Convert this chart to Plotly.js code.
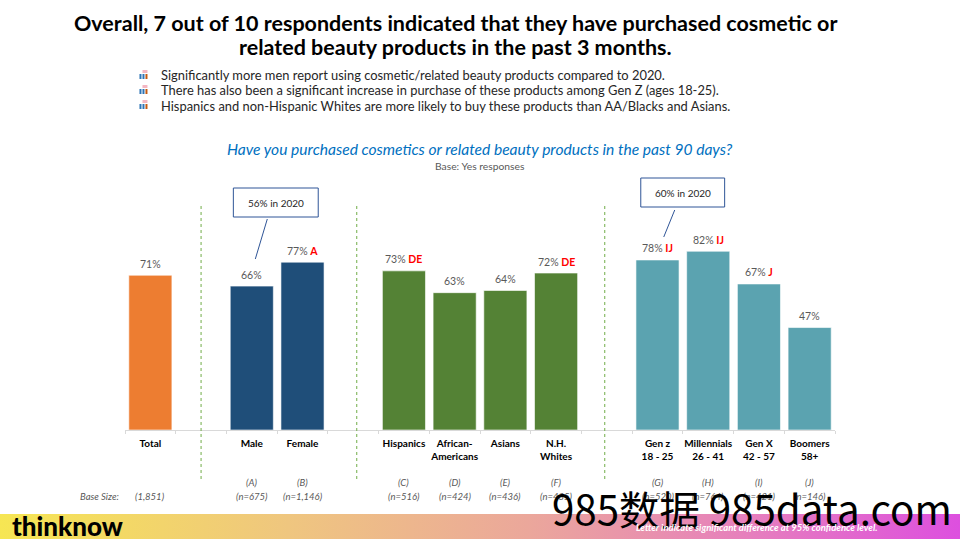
<!DOCTYPE html>
<html><head><meta charset="utf-8">
<script src="https://cdn.plot.ly/plotly-3.0.1.min.js"></script>
<style>
html,body{margin:0;padding:0;background:#fff;width:960px;height:540px;overflow:hidden}
#band{position:absolute;left:0;top:514px;width:960px;height:25px;background:linear-gradient(90deg,#f6e653 0%,#efc67f 30%,#eba79b 55%,#e67fbd 78%,#dd4fdf 100%)}
#chart{position:absolute;left:0;top:0;width:960px;height:540px}
</style></head><body>
<div id="band"></div><div id="chart"></div>
<script>
const categories=["Total","gap1","Male","Female","gap2","Hispanics","African-<br>Americans","Asians","N.H.<br>Whites","gap3","Gen z<br>18 - 25","Millennials<br>26 - 41","Gen X<br>42 - 57","Boomers<br>58+"];
const tickLabels=["Total","","Male","Female","","Hispanics","African-<br>Americans","Asians","N.H.<br>Whites","","Gen z<br>18 - 25","Millennials<br>26 - 41","Gen X<br>42 - 57","Boomers<br>58+"];
const values=[71,null,66,77,null,73,63,64,72,null,78,82,67,47];
const sigLetters=["","","","A","","DE","","","DE","","IJ","IJ","J",""];
const columnLetters=["","","(A)","(B)","","(C)","(D)","(E)","(F)","","(G)","(H)","(I)","(J)"];
const baseSizes=["(1,851)","","(n=675)","(n=1,146)","","(n=516)","(n=424)","(n=436)","(n=435)","","(n=520)","(n=764)","(n=421)","(n=146)"];
const barColors=["#ed7d31","#fff","#1f4e79","#1f4e79","#fff","#548235","#548235","#548235","#548235","#fff","#5ba3b0","#5ba3b0","#5ba3b0","#5ba3b0"];
const bullets=["Significantly more men report using cosmetic/related beauty products compared to 2020.","There has also been a significant increase in purchase of these products among Gen Z (ages 18-25).","Hispanics and non-Hispanic Whites are more likely to buy these products than AA/Blacks and Asians."];

const W=960,H=540,F="Lato, sans-serif";
const M={l:124.5,r:124.5,t:212,b:110};
const px=x=>(x-M.l)/(W-M.l-M.r), py=y=>(H-M.b-y)/(H-M.t-M.b);
const ann=(x,y,text,size,color,extra)=>Object.assign({xref:"paper",yref:"paper",x:px(x),y:py(y),text:text,showarrow:false,xanchor:"center",yanchor:"middle",font:{family:F,size:size,color:color}},extra||{});
const shapes=[],annotations=[];
// separators
[1,4.07,8.96].forEach(k=>shapes.push({type:"line",xref:"x",yref:"paper",x0:k,x1:k,y0:py(206),y1:py(480),line:{color:"#70ad47",width:1,dash:"3px,3px"}}));
// callouts
[[233,188,318,217,"56% in 2020",275.5,267,219,255,259],[641,178,725,207,"60% in 2020",683,675,210,664,237]].forEach(a=>{
 shapes.push({type:"rect",xref:"paper",yref:"paper",x0:px(a[0]),x1:px(a[2]),y0:py(a[1]),y1:py(a[3]),line:{color:"#2f5597",width:1},fillcolor:"#fff"});
 shapes.push({type:"line",xref:"paper",yref:"paper",x0:px(a[6]),x1:px(a[8]),y0:py(a[7]),y1:py(a[9]),line:{color:"#2f5597",width:1}});
 annotations.push(ann(a[5],(a[1]+a[3])/2,a[4],10,"#262626"));
});
// bullet icons
[75,90,105].forEach(y=>{
 [[139,"#2e75b6"],[142,"#2e75b6"],[145,"#c55a11"]].forEach(([x,c])=>shapes.push({type:"rect",xref:"paper",yref:"paper",x0:px(x),x1:px(x+2),y0:py(y-1),y1:py(y+4),fillcolor:c,line:{width:0}}));
 shapes.push({type:"rect",xref:"paper",yref:"paper",x0:px(142),x1:px(147),y0:py(y-5),y1:py(y-2),fillcolor:"#f4b6c2",line:{width:0}});
});
// title
annotations.push(ann(455,23,"Overall, 7 out of 10 respondents indicated that they have purchased cosmetic or",21.5,"#000",{font:{family:F,size:21.5,color:"#000",weight:700}}));
annotations.push(ann(455,47,"related beauty products in the past 3 months.",21.5,"#000",{font:{family:F,size:21.5,color:"#000",weight:700}}));
bullets.forEach((b,i)=>annotations.push(ann(159,75.3+i*15.2,b,12.9,"#262626",{xanchor:"left"})));
annotations.push(ann(480,149,"<i>Have you purchased cosmetics or related beauty products in the past 90 days?</i>",15.6,"#0070c0"));
annotations.push(ann(480,165.5,"Base: Yes responses",10.3,"#595959"));
// base rows
annotations.push(ann(98.5,496,"<i>Base Size:</i>",9.5,"#595959"));
categories.forEach((c,i)=>{
 if(columnLetters[i])annotations.push({xref:"x",yref:"paper",x:c,y:py(482),text:"<i>"+columnLetters[i]+"</i>",showarrow:false,yanchor:"middle",font:{family:F,size:9.5,color:"#595959"}});
 if(baseSizes[i])annotations.push({xref:"x",yref:"paper",x:c,y:py(496),text:"<i>"+baseSizes[i]+"</i>",showarrow:false,yanchor:"middle",font:{family:F,size:9.5,color:"#595959"}});
});
// value labels placed through the library's scales
categories.forEach((c,i)=>{
 if(values[i]==null)return;
 const t=values[i]+"%"+(sigLetters[i]?' <span style="color:#ff0000;font-weight:700">'+sigLetters[i]+"</span>":"");
 annotations.push({xref:"x",yref:"y",x:c,y:values[i],yshift:11.5,text:t,showarrow:false,yanchor:"middle",font:{family:F,size:10.5,color:"#595959"}});
});
// overlaid site watermark present in the reference
annotations.push(ann(752,507,"985数据 985data.com",40.3,"#000",{font:{family:"Noto Sans CJK SC, sans-serif",size:40.3,color:"#000"}}));
// footer
annotations.push(ann(9,525.5,"thinknow",26,"#000",{xanchor:"left",font:{family:F,size:26,color:"#000",weight:900}}));
annotations.push(ann(757,527.5,"<i>Letter indicate significant difference at 95% confidence level.</i>",9.5,"#fff",{font:{family:F,size:9.5,color:"#fff",weight:700}}));

Plotly.newPlot("chart",[{type:"bar",x:categories,y:values,marker:{color:barColors,line:{color:"rgba(255,255,255,0.6)",width:1}},cliponaxis:false,hoverinfo:"skip"}],{
 width:W,height:H,margin:M,paper_bgcolor:"rgba(0,0,0,0)",plot_bgcolor:"rgba(0,0,0,0)",showlegend:false,bargap:0.15,
 xaxis:{type:"category",categoryorder:"array",categoryarray:categories,tickmode:"array",tickvals:categories,ticktext:tickLabels,range:[-0.5,13.5],showgrid:false,zeroline:false,showline:true,linecolor:"#d9d9d9",linewidth:1,ticks:"outside",ticklen:3,tickcolor:"#d9d9d9",tickson:"boundaries",ticklabelstandoff:4,tickangle:0,tickfont:{family:F,size:10,color:"#000",weight:700}},
 yaxis:{range:[0,100],visible:false},
 shapes:shapes,annotations:annotations
},{displayModeBar:false,staticPlot:true});
</script></body></html>
